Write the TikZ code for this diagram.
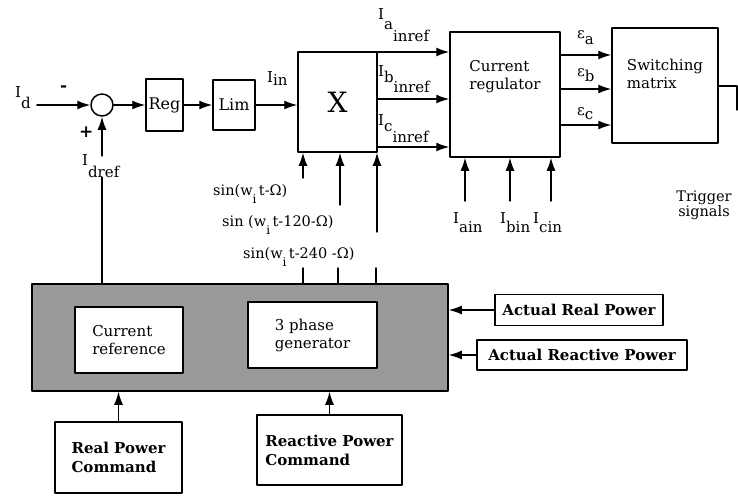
\documentclass[tikz,border=0pt]{standalone}
\usepackage{fontspec}
\setmainfont{DejaVu Serif}
\usepackage{tikz}
\usetikzlibrary{arrows.meta,calc,positioning}
\newcommand{\lo}[2][0.7em]{\raisebox{-#1}{#2}}
\tikzset{
  blk/.style={draw, line width=1.5pt, inner sep=0pt},
  sumc/.style={circle, draw, line width=1.5pt, minimum size=22pt, inner sep=0pt},
  lbl/.style={inner sep=0pt, anchor=base west, font=\fontsize{15}{18}\selectfont},
  txt/.style={inner sep=1pt, align=left, font=\fontsize{15}{18}\selectfont},
  cmd/.style={draw, line width=1.5pt, inner sep=3pt, align=left, font=\fontsize{15}{19}\selectfont\bfseries},
  sig/.style={line width=1.4pt, -{Latex[length=13pt,width=9pt]}},
  wire/.style={line width=1.4pt},
  every picture/.style={line cap=round, line join=round}
}

\begin{document}
\begin{tikzpicture}[x=1pt, y=-1pt]
  \useasboundingbox (0,0) rectangle (738,495);

  % upper chain
  \node[sumc] (sum) at (102,105) {};
  \node[blk, minimum width=37pt, minimum height=52pt, font=\fontsize{16}{18}\selectfont] (reg) at (164.5,105) {Reg};
  \node[blk, minimum width=42pt, minimum height=50pt, font=\fontsize{16}{18}\selectfont] (lim) at (234,105) {Lim};
  \node[blk, minimum width=79pt, minimum height=100pt, font=\fontsize{28}{30}\selectfont] (mulx) at (337.5,102) {X};
  \node[blk, minimum width=110pt, minimum height=125pt] (creg) at (505,94.5) {};
  \node[txt, below=28pt of creg.north] (cregt) {Current\\regulator};
  \node[blk, minimum width=106pt, minimum height=115pt] (sw) at (665,85.5) {};
  \node[txt, below=31pt of sw.north] (swt) {Switching\\matrix};

  \node[lbl] (id) at (15,97) {I\lo[0.75em]{d}};
  \node[lbl, font=\fontsize{17}{18}\selectfont\bfseries] (minus) at (60,91) {-};
  \node[lbl, font=\fontsize{17}{18}\selectfont\bfseries] (plus) at (79,137) {+};
  \node[lbl] (idref) at (82,165) {I\lo[0.8em]{dref}};
  \node[lbl] (iin) at (267,82) {I\lo[0.25em]{in}};

  \draw[sig] ([xshift=6pt]id.east |- sum) -- (sum.west);
  \draw[sig] (sum) -- (reg);
  \draw[sig] (reg) -- (lim);
  \draw[sig] (lim.east) -- (lim.east -| mulx.west);
  \draw[sig] ([yshift=-2pt]idref.north -| sum.south) -- (sum.south);

  % X outputs
  \node[lbl] (ia) at (378,20) {I\lo[0.65em]{a\lo[0.8em]{inref}}};
  \node[lbl] (ib) at (378,77) {I\lo[0.4em]{b\lo[0.6em]{inref}}};
  \node[lbl] (ic) at (378,125) {I\lo[0.45em]{c\lo[0.7em]{inref}}};
  \foreach \yy in {52,99,147}
    \draw[sig] (mulx.east |- 0,\yy) -- (creg.west |- 0,\yy);

  % regulator outputs
  \node[lbl] (ea) at (577,38) {ε\lo[0.45em]{a}};
  \node[lbl] (eb) at (577,77) {ε\lo[0.3em]{b}};
  \node[lbl] (ec) at (577,115) {ε\lo[0.3em]{c}};
  \foreach \yy in {55,89,125}
    \draw[sig] (creg.east |- 0,\yy) -- (sw.west |- 0,\yy);
  \coordinate (trig) at (737,86);
  \draw[wire] (sw.east |- trig) -- (trig) -- ++(0,24);
  \node[txt, align=center, font=\fontsize{14.5}{15}\selectfont] (trigt) at (704,205) {Trigger\\signals};

  % measured currents
  \coordinate (ain) at (465,201);
  \coordinate (bin) at (510,201);
  \coordinate (cin) at (551,201);
  \node[lbl] (iain) at (453,223) {I\lo[0.65em]{ain}};
  \node[lbl] (ibin) at (500,223) {I\lo[0.65em]{bin}};
  \node[lbl] (icin) at (533,223) {I\lo[0.65em]{cin}};
  \draw[sig] (ain) -- (ain |- creg.south);
  \draw[sig] (bin) -- (bin |- creg.south);
  \draw[sig] (cin) -- (cin |- creg.south);

  % lower block
  \node[blk, fill=black!40, minimum width=416pt, minimum height=107pt] (ctrl) at (240,337.5) {};
  \node[blk, txt, fill=white, minimum width=108pt, minimum height=66pt] (cref) at (129,340) {Current\\reference};
  \node[blk, txt, fill=white, minimum width=129pt, minimum height=66pt] (gen) at (312.5,335) {3 phase\\generator};
  \draw[wire] (idref.south -| sum.south) -- (ctrl.north -| sum.south);

  % sine references
  \node[lbl, font=\fontsize{14.5}{16}\selectfont] (s1) at (213,195) {sin(w\lo[0.6em]{\fontsize{12}{12}\selectfont i}\,t-Ω)};
  \node[lbl, font=\fontsize{14.5}{16}\selectfont] (s2) at (222,226) {sin (w\lo[0.6em]{\fontsize{12}{12}\selectfont i}\,t-120-Ω)};
  \node[lbl, font=\fontsize{14.5}{16}\selectfont] (s3) at (243,258) {sin(w\lo[0.6em]{\fontsize{12}{12}\selectfont i}\,t-240 -Ω)};
  \coordinate (p1) at (303,178);
  \coordinate (p2) at (340,205);
  \coordinate (p3) at (377,232);
  \draw[sig] (p1) -- (p1 |- mulx.south);
  \draw[sig] (p2) -- (p2 |- mulx.south);
  \draw[sig] (p3) -- (p3 |- mulx.south);
  \coordinate (q1) at (303,268);
  \coordinate (q2) at (338,268);
  \coordinate (q3) at (376,268);
  \draw[wire] (q1) -- (q1 |- ctrl.north);
  \draw[wire] (q2) -- (q2 |- ctrl.north);
  \draw[wire] (q3) -- (q3 |- ctrl.north);

  % commands and measurements
  \node[cmd, minimum width=127pt, minimum height=71pt] (rpc) at (118.5,457.5) {Real Power\\Command};
  \node[cmd, minimum width=145pt, minimum height=70pt] (qpc) at (329.5,450) {Reactive Power\\Command};
  \node[cmd, minimum width=168pt, minimum height=31pt] (pact) at (579,310) {Actual Real Power};
  \node[cmd, minimum width=210pt, minimum height=30pt] (qact) at (582,355) {Actual Reactive Power};
  \draw[sig] (rpc.north) -- (rpc.north |- ctrl.south);
  \draw[sig] (qpc.north) -- (qpc.north |- ctrl.south);
  \draw[sig] (pact.west) -- (pact.west -| ctrl.east);
  \draw[sig] (qact.west) -- (qact.west -| ctrl.east);
\end{tikzpicture}
\end{document}
